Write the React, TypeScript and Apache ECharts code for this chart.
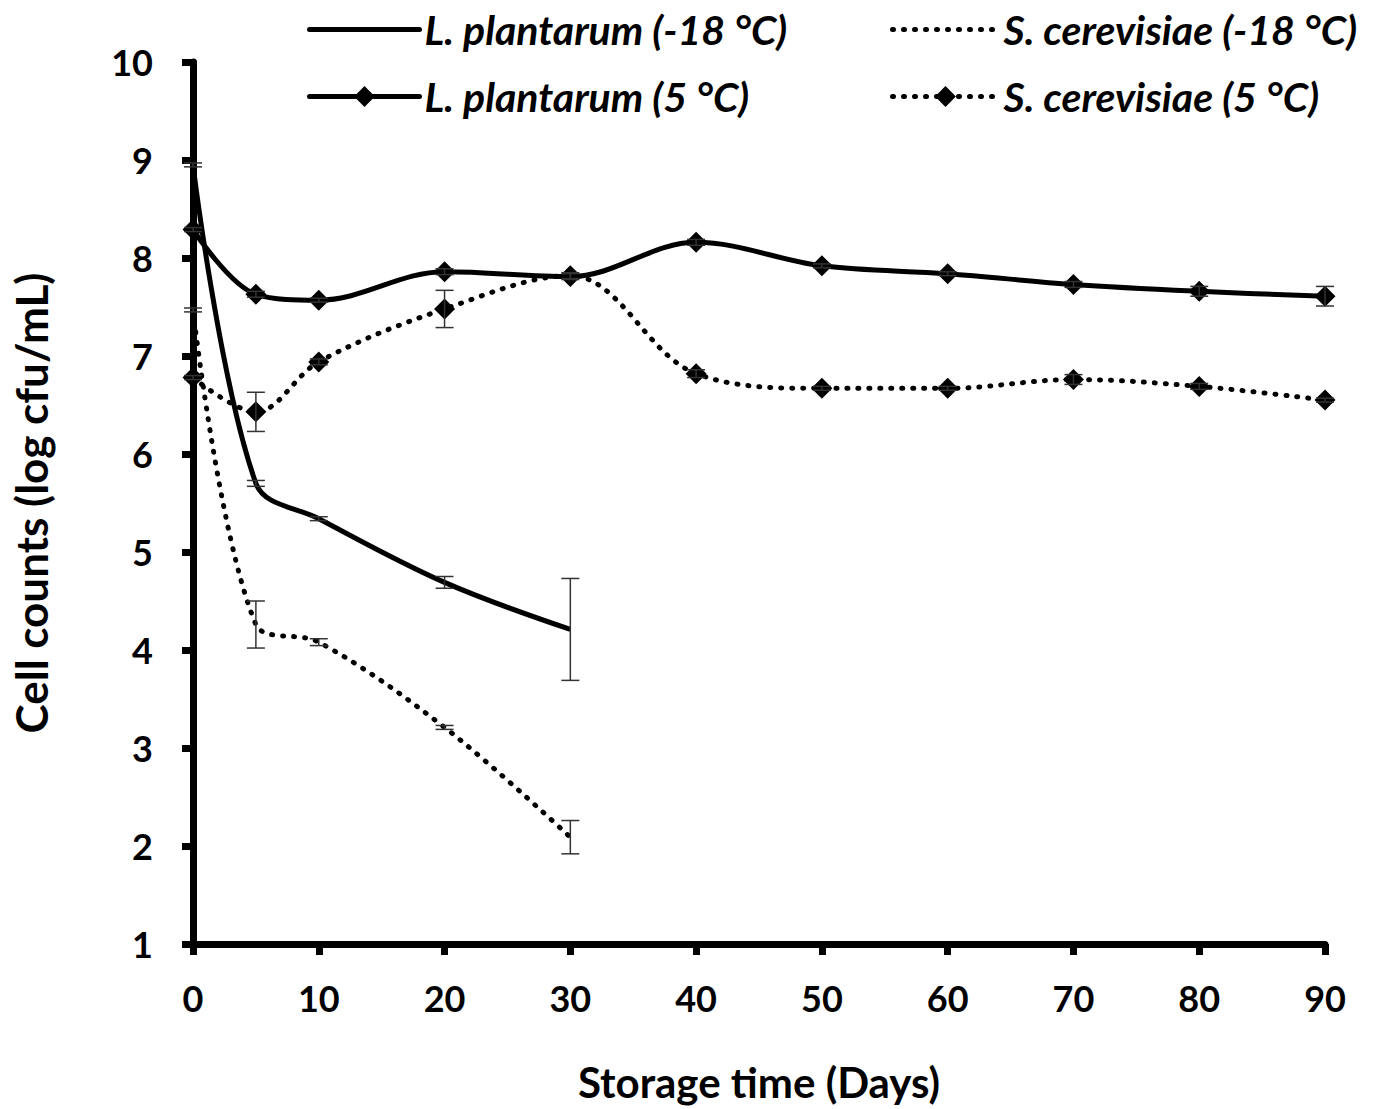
import React, { useEffect, useRef } from "react";
import * as echarts from "echarts";

const days18 = [0, 5, 10, 20, 30];
const days5 = [0, 5, 10, 20, 30, 40, 50, 60, 70, 80, 90];
const lp18 = [8.95, 5.7, 5.34, 4.69, 4.21];
const lp18Err = [0.02, 0.03, 0.02, 0.06, 0.52];
const sc18 = [7.47, 4.26, 4.08, 3.21, 2.09];
const sc18Err = [0.02, 0.24, 0.035, 0.02, 0.17];
const lp5 = [8.29, 7.63, 7.57, 7.86, 7.81, 8.16, 7.92, 7.84, 7.73, 7.66, 7.61];
const lp5Err = [0.02, 0.03, 0.02, 0.03, 0.03, 0.03, 0.02, 0.02, 0.03, 0.05, 0.1];
const sc5 = [6.78, 6.43, 6.94, 7.48, 7.82, 6.82, 6.67, 6.67, 6.76, 6.69, 6.55];
const sc5Err = [0.02, 0.2, 0.03, 0.19, 0.03, 0.04, 0.02, 0.02, 0.05, 0.03, 0.02];

const names = [
  "L. plantarum (-18 °C)",
  "S. cerevisiae (-18 °C)",
  "L. plantarum (5 °C)",
  "S. cerevisiae (5 °C)",
];
const xTicks = { min: 0, max: 90, interval: 10 };
const yTicks = { min: 1, max: 10, interval: 1 };

const FONT = "Lato";
const DOT_DASH: number[] = [1, 10];
const dotted = { type: DOT_DASH as any, cap: "round" as const, width: 5, color: "#000" };
const solid = { type: "solid" as const, width: 5, color: "#000" };

function pairs(xs: number[], ys: number[]) {
  return xs.map((x, i) => [x, ys[i]]);
}
function errTriples(xs: number[], ys: number[], es: number[]) {
  return xs.map((x, i) => [x, ys[i], es[i]]);
}

export default function App() {
  const ref = useRef<HTMLDivElement>(null);
  useEffect(() => {
    if (!ref.current) return;
    const chart = echarts.init(ref.current, null, { renderer: "svg" });
    const errData = [
      ...errTriples(days18, lp18, lp18Err),
      ...errTriples(days18, sc18, sc18Err),
      ...errTriples(days5, lp5, lp5Err),
      ...errTriples(days5, sc5, sc5Err),
    ];
    const legendText = {
      fontFamily: FONT,
      fontSize: 41,
      fontWeight: "bold" as const,
      fontStyle: "italic" as const,
      color: "#000",
    };
    const mkLegend = (
      name: string,
      left: number,
      centerY: number,
      w: number,
      isDotted: boolean,
      hasMarker: boolean
    ) => ({
      data: [name],
      left,
      top: centerY - 23,
      padding: 0,
      itemWidth: w,
      itemHeight: 26,
      selectedMode: false,
      textStyle: legendText,
      lineStyle: isDotted
        ? { width: 5, type: DOT_DASH as any, cap: "round", color: "#000" }
        : { width: 5, type: "solid", cap: "round", color: "#000" },
      itemStyle: hasMarker ? { color: "#000", opacity: 1 } : { opacity: 0 },
    });
    chart.setOption({
      animation: false,
      backgroundColor: "#fff",
      grid: { left: 193, right: 57, top: 62, bottom: 165, containLabel: false },
      legend: [
        mkLegend(names[0], 307, 32, 110, false, false),
        mkLegend(names[1], 890, 32, 106, true, false),
        mkLegend(names[2], 307, 99, 110, false, true),
        mkLegend(names[3], 890, 99, 106, true, true),
      ],
      xAxis: {
        type: "value",
        ...xTicks,
        name: "Storage time (Days)",
        nameLocation: "middle",
        nameGap: 117,
        nameTextStyle: { fontFamily: FONT, fontSize: 42, fontWeight: "bold", color: "#000" },
        axisLine: { lineStyle: { color: "#000", width: 7 } },
        axisTick: { show: true, length: 11, lineStyle: { color: "#000", width: 7 } },
        axisLabel: { margin: 36, fontFamily: FONT, fontSize: 36, fontWeight: "bold", color: "#000" },
        splitLine: { show: false },
      },
      yAxis: {
        type: "value",
        ...yTicks,
        name: "Cell counts (log cfu/mL)",
        nameLocation: "middle",
        nameGap: 140,
        nameRotate: 90,
        nameTextStyle: { fontFamily: FONT, fontSize: 44, fontWeight: "bold", color: "#000" },
        axisLine: { show: true, lineStyle: { color: "#000", width: 7 } },
        axisTick: { show: true, length: 11, lineStyle: { color: "#000", width: 7 } },
        axisLabel: { margin: 40, fontFamily: FONT, fontSize: 36, fontWeight: "bold", color: "#000" },
        splitLine: { show: false },
      },
      series: [
        {
          name: names[0],
          type: "line",
          data: pairs(days18, lp18),
          smooth: 0.35,
          symbol: "none",
          lineStyle: solid,
          itemStyle: { color: "#000" },
          z: 3,
        },
        {
          name: names[1],
          type: "line",
          data: pairs(days18, sc18),
          smooth: 0.35,
          symbol: "none",
          lineStyle: dotted,
          itemStyle: { color: "#000" },
          z: 3,
        },
        {
          name: names[2],
          type: "line",
          data: pairs(days5, lp5),
          smooth: 0.35,
          symbol: "diamond",
          symbolSize: 21,
          lineStyle: solid,
          itemStyle: { color: "#000" },
          z: 4,
        },
        {
          name: names[3],
          type: "line",
          data: pairs(days5, sc5),
          smooth: 0.35,
          symbol: "diamond",
          symbolSize: 21,
          lineStyle: dotted,
          itemStyle: { color: "#000" },
          z: 4,
        },
        {
          name: "errors",
          type: "custom",
          data: errData,
          encode: { x: 0, y: 1 },
          z: 5,
          clip: false,
          renderItem: (params: any, api: any) => {
            const x = api.value(0);
            const y = api.value(1);
            const e = api.value(2);
            const top = api.coord([x, y + e]);
            const bot = api.coord([x, y - e]);
            const hw = 9;
            const style = { stroke: "#333", lineWidth: 1.5, fill: null };
            return {
              type: "group",
              children: [
                { type: "line", shape: { x1: top[0], y1: top[1], x2: bot[0], y2: bot[1] }, style },
                { type: "line", shape: { x1: top[0] - hw, y1: top[1], x2: top[0] + hw, y2: top[1] }, style },
                { type: "line", shape: { x1: bot[0] - hw, y1: bot[1], x2: bot[0] + hw, y2: bot[1] }, style },
              ],
            };
          },
        },
      ],
    });
    return () => chart.dispose();
  }, []);
  return (
    <div
      ref={ref}
      style={{ position: "absolute", left: 0, top: 0, width: 1382, height: 1109 }}
    />
  );
}
